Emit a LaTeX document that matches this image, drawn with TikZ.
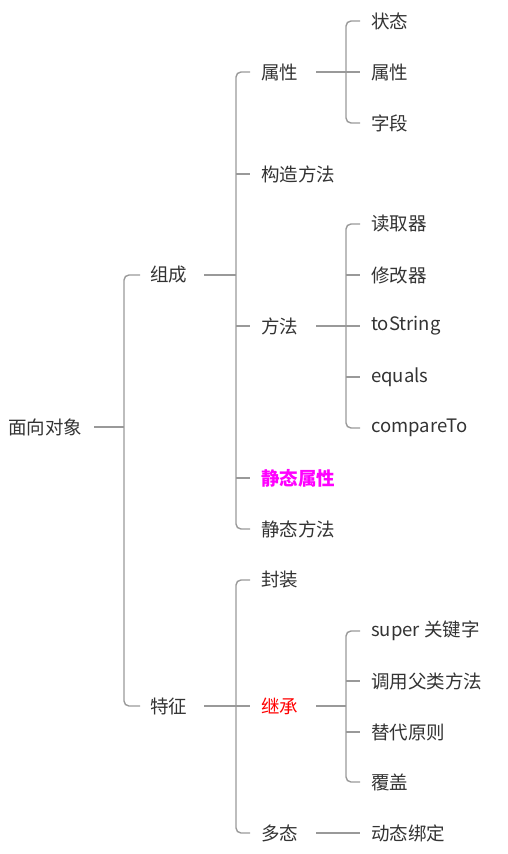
\documentclass[tikz,border=0pt]{standalone}
\usepackage{fontspec}
\newfontfamily\cjk{Noto Sans CJK SC}
\definecolor{txt}{HTML}{333333}
\definecolor{linegray}{HTML}{999999}
\definecolor{hotpink}{HTML}{FF00FF}
\tikzset{
  item/.style={anchor=west,inner sep=0pt,text=txt,font=\cjk\fontsize{18.5}{22}\selectfont},
  link/.style={draw=linegray,line width=1.4pt},
  bar/.style={link,rounded corners=5pt}
}
\begin{document}
\begin{tikzpicture}[x=1pt,y=-1pt]
  \useasboundingbox (0,0) rectangle (508,854);
  % root and first level
  \node[item] (mx) at (8,427) {面向对象};
  \node[item] (zc) at (150,275) {组成};
  \node[item] (tz) at (150,706) {特征};
  \coordinate (b1) at (124,427);
  \draw[link] ([xshift=12pt]mx.east) -- (b1);
  \draw[bar] ([xshift=-10pt]zc.west) -| (b1) |- ([xshift=-10pt]tz.west);

  % 组成
  \node[item] (sx) at (261,72) {属性};
  \node[item] (gz) at (261,174) {构造方法};
  \node[item] (ff) at (261,326) {方法};
  \node[item,text=hotpink,font=\cjk\bfseries\fontsize{18.5}{22}\selectfont] (jsx) at (261,478) {静态属性};
  \node[item] (jff) at (261,529) {静态方法};
  \coordinate (b2) at (236,275);
  \draw[link] ([xshift=17pt]zc.east) -- (b2);
  \draw[bar] ([xshift=-11pt]sx.west) -| (b2) |- ([xshift=-11pt]jff.west);
  \draw[link] (236,174) -- ([xshift=-11pt]gz.west);
  \draw[link] (236,326) -- ([xshift=-11pt]ff.west);
  \draw[link] (236,478) -- ([xshift=-11pt]jsx.west);

  % 属性
  \node[item] (zt) at (371,21) {状态};
  \node[item] (sx2) at (371,72) {属性};
  \node[item] (zd) at (371,123) {字段};
  \coordinate (b3) at (346,72);
  \draw[link] ([xshift=18pt]sx.east) -- (b3);
  \draw[bar] ([xshift=-11pt]zt.west) -| (b3) |- ([xshift=-11pt]zd.west);
  \draw[link] (b3) -- ([xshift=-11pt]sx2.west);

  % 方法
  \node[item] (dq) at (371,224) {读取器};
  \node[item] (xg) at (371,275) {修改器};
  \node[item] (ts) at (371,326) {toString};
  \node[item] (eq) at (371,377) {equals};
  \node[item] (ct) at (371,428) {compareTo};
  \coordinate (b4) at (346,326);
  \draw[link] ([xshift=18pt]ff.east) -- (b4);
  \draw[bar] ([xshift=-11pt]dq.west) -| (b4) |- ([xshift=-11pt]ct.west);
  \draw[link] (346,275) -- ([xshift=-11pt]xg.west);
  \draw[link] (b4) -- ([xshift=-11pt]ts.west);
  \draw[link] (346,377) -- ([xshift=-11pt]eq.west);

  % 特征
  \node[item] (fz) at (261,580) {封装};
  \node[item,text=red] (jc) at (261,706) {继承};
  \node[item] (dt) at (261,833) {多态};
  \coordinate (b5) at (236,706);
  \draw[link] ([xshift=17pt]tz.east) -- (b5);
  \draw[bar] ([xshift=-11pt]fz.west) -| (b5) |- ([xshift=-11pt]dt.west);
  \draw[link] (b5) -- ([xshift=-11pt]jc.west);

  % 继承
  \node[item] (sp) at (371,631) {super 关键字};
  \node[item] (dy) at (371,681) {调用父类方法};
  \node[item] (td) at (371,732) {替代原则};
  \node[item] (fg) at (371,782) {覆盖};
  \coordinate (b6) at (346,706);
  \draw[link] ([xshift=18pt]jc.east) -- (b6);
  \draw[bar] ([xshift=-11pt]sp.west) -| (b6) |- ([xshift=-11pt]fg.west);
  \draw[link] (346,681) -- ([xshift=-11pt]dy.west);
  \draw[link] (346,732) -- ([xshift=-11pt]td.west);

  % 多态
  \node[item] (db) at (371,833) {动态绑定};
  \draw[link] ([xshift=18pt]dt.east) -- ([xshift=-11pt]db.west);
\end{tikzpicture}
\end{document}
